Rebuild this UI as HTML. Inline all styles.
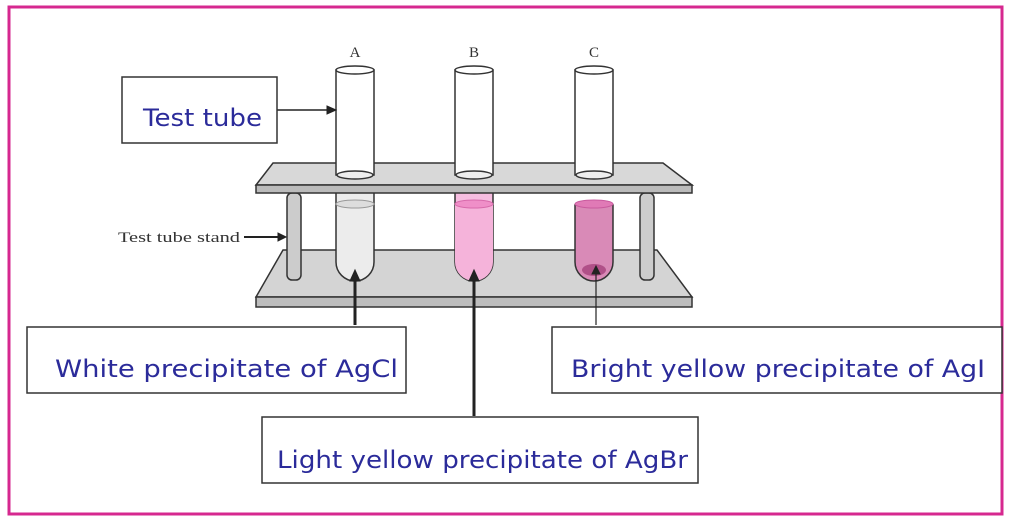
<!DOCTYPE html>
<html><head><style>
body{margin:0;background:#fff;}
svg{display:block}
.l{font-family:"DejaVu Sans","Liberation Sans",sans-serif;fill:#2b2b9a;font-size:24px}
.s{font-family:"Liberation Serif",serif;fill:#333}
</style></head><body>
<svg width="1024" height="522" viewBox="0 0 1024 522" xmlns="http://www.w3.org/2000/svg">
<rect x="9" y="7" width="993" height="507" fill="#fff" stroke="#d6288f" stroke-width="3"/>
<polygon points="283,250 657,250 692,297 256,297" fill="#d4d4d4" stroke="#333" stroke-width="1.5"/>
<rect x="256" y="297" width="436" height="10" fill="#bdbdbd" stroke="#333" stroke-width="1.5"/>
<rect x="287" y="193" width="14" height="87" rx="5" fill="#ccc" stroke="#333" stroke-width="1.5"/>
<rect x="640" y="193" width="14" height="87" rx="5" fill="#ccc" stroke="#333" stroke-width="1.5"/>
<path d="M336,190 V262 A19,19 0 0 0 374,262 V190 Z" fill="#ececec" stroke="#333" stroke-width="1.5"/>
<ellipse cx="355" cy="204" rx="19" ry="4" fill="#ddd" stroke="#999"/>
<path d="M455,190 V262 A19,19 0 0 0 493,262 V190 Z" fill="#f6bde0" stroke="#333" stroke-width="1.5"/>
<path d="M455,205 V262 A19,19 0 0 0 493,262 V205 Z" fill="#f5b3da"/>
<ellipse cx="474" cy="204" rx="19" ry="4" fill="#ef8fc8" stroke="#d86aab"/>
<path d="M575,205 V262 A19,19 0 0 0 613,262 V205 Z" fill="#d98ab7" stroke="#333" stroke-width="1.5"/>
<ellipse cx="594" cy="204" rx="19" ry="4" fill="#e07ab6" stroke="#c95a9e"/>
<ellipse cx="594" cy="270" rx="12" ry="6" fill="#b05088"/>
<polygon points="273,163 663,163 692,185 256,185" fill="#d8d8d8" stroke="#333" stroke-width="1.5"/>
<rect x="256" y="185" width="436" height="8" fill="#bbb" stroke="#333" stroke-width="1.5"/>
<g fill="#fff" stroke="#333" stroke-width="1.5">
<rect x="336" y="70" width="38" height="105"/><ellipse cx="355" cy="70" rx="19" ry="4"/><ellipse cx="355" cy="175" rx="18" ry="4" fill="#eee"/>
<rect x="455" y="70" width="38" height="105"/><ellipse cx="474" cy="70" rx="19" ry="4"/><ellipse cx="474" cy="175" rx="18" ry="4" fill="#eee"/>
<rect x="575" y="70" width="38" height="105"/><ellipse cx="594" cy="70" rx="19" ry="4"/><ellipse cx="594" cy="175" rx="18" ry="4" fill="#eee"/>
</g>
<text class="s" x="355" y="57" font-size="15" text-anchor="middle">A</text>
<text class="s" x="474" y="57" font-size="15" text-anchor="middle">B</text>
<text class="s" x="594" y="57" font-size="15" text-anchor="middle">C</text>
<text class="s" x="118" y="242" font-size="15" textLength="122" lengthAdjust="spacingAndGlyphs">Test tube stand</text>
<g stroke="#222" fill="#222">
<line x1="244" y1="237" x2="280" y2="237" stroke-width="2"/><polygon points="286,237 278,233 278,241"/>
<line x1="277" y1="110" x2="330" y2="110" stroke-width="1.5"/><polygon points="336,110 327,106 327,114"/>
<line x1="355" y1="280" x2="355" y2="325" stroke-width="3"/><polygon points="355,270 350,281 360,281"/>
<line x1="474" y1="280" x2="474" y2="416" stroke-width="3"/><polygon points="474,270 469,281 479,281"/>
<line x1="596" y1="272" x2="596" y2="325" stroke-width="1.2"/><polygon points="596,266 592,274 600,274"/>
</g>
<g fill="#fff" stroke="#333" stroke-width="1.5">
<rect x="122" y="77" width="155" height="66"/>
<rect x="27" y="327" width="379" height="66"/>
<rect x="552" y="327" width="450" height="66"/>
<rect x="262" y="417" width="436" height="66"/>
</g>
<text class="l" x="143" y="126" textLength="119" lengthAdjust="spacingAndGlyphs">Test tube</text>
<text class="l" x="55" y="377" textLength="343" lengthAdjust="spacingAndGlyphs">White precipitate of AgCl</text>
<text class="l" x="571" y="377" textLength="414" lengthAdjust="spacingAndGlyphs">Bright yellow precipitate of AgI</text>
<text class="l" x="277" y="468" textLength="411" lengthAdjust="spacingAndGlyphs">Light yellow precipitate of AgBr</text>
</svg>
</body></html>
